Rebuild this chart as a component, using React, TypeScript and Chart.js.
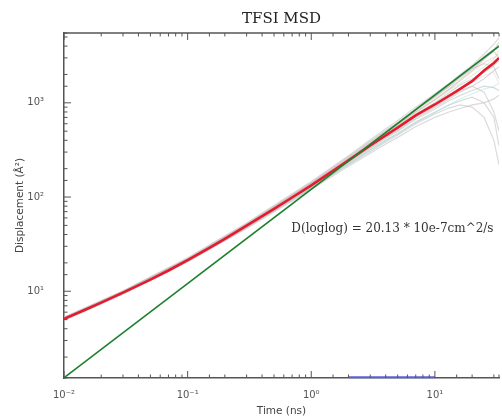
import React, { useEffect, useRef } from 'react';
import { Chart, registerables } from 'chart.js';

Chart.register(...registerables);

// Time points (ns) for the mean MSD
const TIME = [0.01, 0.015, 0.02, 0.03, 0.05, 0.07, 0.1, 0.15, 0.2, 0.3, 0.5, 0.7, 1, 1.5, 2, 3, 5, 7, 10, 15, 20, 25, 30, 33];
// Mean MSD (red)
const MEAN_MSD = [5.1, 6.41, 7.57, 9.66, 13.3, 16.6, 21.4, 28.8, 36.0, 49.6, 75.0, 98.9, 133, 190, 245, 352, 545, 735, 960, 1330, 1700, 2200, 2650, 2990];

// Time points (ns) for the individual ion MSDs
const ION_TIME = [0.01, 0.03, 0.1, 0.3, 1, 2, 3, 4, 5, 7, 10, 13, 16, 20, 25, 30, 33];
const ION_1 = [5.3, 10.1, 22.6, 53, 146, 275, 405, 530, 650, 900, 1250, 1600, 2000, 2500, 3300, 4200, 4900];
const ION_2 = [5.25, 10.0, 22.3, 52, 143, 268, 392, 510, 620, 860, 1180, 1550, 1900, 2400, 3100, 3700, 4100];
const ION_3 = [5.2, 9.9, 22.0, 51, 140, 258, 375, 480, 590, 810, 1100, 1380, 1700, 2150, 2700, 3000, 3300];
const ION_4 = [5.15, 9.75, 21.6, 50.2, 136, 250, 360, 470, 560, 760, 1000, 1280, 1550, 1800, 2100, 2500, 2800];
const ION_5 = [5.05, 9.6, 21.2, 49, 130, 236, 335, 430, 510, 690, 900, 1100, 1300, 1500, 1800, 2200, 2400];
const ION_6 = [5.0, 9.5, 20.9, 48, 126, 226, 318, 400, 475, 630, 800, 950, 1100, 1250, 1400, 1500, 1600];
const ION_7 = [4.95, 9.4, 20.7, 47.3, 123, 220, 305, 385, 455, 600, 760, 880, 950, 900, 700, 400, 220];
const ION_8 = [4.9, 9.3, 20.4, 46.5, 120, 212, 292, 365, 430, 560, 700, 800, 870, 950, 1000, 1100, 1200];
const ION_9 = [5.1, 9.7, 21.5, 50, 135, 248, 360, 465, 570, 790, 1060, 1350, 1600, 1950, 2400, 2900, 3600];
const ION_10 = [5.1, 9.65, 21.3, 49.4, 132, 240, 345, 445, 535, 720, 950, 1150, 1350, 1500, 1300, 800, 500];
const ION_11 = [5.2, 9.85, 21.8, 50.8, 138, 255, 372, 485, 600, 840, 1150, 1500, 1900, 2300, 2600, 2400, 1800];
const ION_12 = [5.0, 9.55, 21.1, 48.6, 128, 232, 330, 420, 500, 670, 860, 1050, 1200, 1350, 1500, 1450, 1350];
const ION_13 = [5.15, 9.8, 21.7, 50.5, 137, 252, 368, 480, 585, 800, 1080, 1400, 1750, 2200, 2900, 3600, 4400];
const ION_14 = [5.05, 9.6, 21.3, 49.2, 131, 238, 340, 440, 525, 710, 920, 1150, 1400, 1650, 1950, 2100, 1600];
const ION_15 = [5.2, 9.9, 21.9, 51.2, 141, 262, 385, 500, 610, 850, 1160, 1480, 1850, 2300, 2950, 3500, 3000];
const ION_16 = [4.95, 9.45, 20.8, 47.7, 125, 224, 315, 400, 470, 620, 790, 950, 1050, 1150, 1000, 700, 350];

const ION_SERIES = [ION_1, ION_2, ION_3, ION_4, ION_5, ION_6, ION_7, ION_8, ION_9, ION_10, ION_11, ION_12, ION_13, ION_14, ION_15, ION_16];
const ION_COLORS = [
  'rgba(190,190,190,0.55)', 'rgba(190,190,190,0.55)', 'rgba(255,160,170,0.35)', 'rgba(190,190,190,0.55)',
  'rgba(190,190,190,0.55)', 'rgba(150,220,220,0.4)', 'rgba(190,190,190,0.55)', 'rgba(190,190,190,0.55)',
  'rgba(170,225,170,0.4)', 'rgba(190,190,190,0.55)', 'rgba(190,190,190,0.55)', 'rgba(190,190,190,0.55)',
  'rgba(190,190,190,0.55)', 'rgba(255,190,200,0.4)', 'rgba(190,190,190,0.55)', 'rgba(190,190,190,0.55)',
];

// Log-log fit (green): MSD = 6 D t
const FIT_T = [0.01, 33];
const FIT_MSD = [1.2078, 3986];
// Fit range marker (blue)
const RANGE_T = [2, 10];
const RANGE_Y = [1.22, 1.22];

const X_MAJOR = [0.01, 0.1, 1, 10];
const X_LABELS = ['10⁻²', '10⁻¹', '10⁰', '10¹'];
const Y_MAJOR = [10, 100, 1000];
const Y_LABELS = ['10¹', '10²', '10³'];

const X_MIN = 0.01;
const X_MAX = 33;
const Y_MIN = 1.2;
const Y_MAX = 5510;

const ANNOT_TEXT = 'D(loglog) = 20.13 * 10e-7cm^2/s';
const ANNOT_T = 0.69;
const ANNOT_Y = 43;

const AXIS_COLOR = '#555';

function isMajor(list: number[], v: number) {
  return list.some((m) => Math.abs(m - v) / m < 1e-6);
}

const frameAndTicks = {
  id: 'frameAndTicks',
  afterDraw(chart: any) {
    const { ctx, chartArea } = chart;
    const xs = chart.scales.x;
    const ys = chart.scales.y;
    ctx.save();
    ctx.strokeStyle = AXIS_COLOR;
    ctx.lineWidth = 1.5;
    ctx.beginPath();
    ctx.moveTo(chartArea.left, chartArea.top);
    ctx.lineTo(chartArea.right, chartArea.top);
    ctx.stroke();
    ctx.lineWidth = 1;
    xs.ticks.forEach((t: any) => {
      const px = xs.getPixelForValue(t.value);
      if (px < chartArea.left - 0.5 || px > chartArea.right + 0.5) return;
      const len = isMajor(X_MAJOR, t.value) ? 7 : 3.5;
      ctx.beginPath();
      ctx.moveTo(px, chartArea.bottom);
      ctx.lineTo(px, chartArea.bottom - len);
      ctx.moveTo(px, chartArea.top);
      ctx.lineTo(px, chartArea.top + len);
      ctx.stroke();
    });
    ys.ticks.forEach((t: any) => {
      const py = ys.getPixelForValue(t.value);
      if (py < chartArea.top - 0.5 || py > chartArea.bottom + 0.5) return;
      const len = isMajor(Y_MAJOR, t.value) ? 7 : 3.5;
      ctx.beginPath();
      ctx.moveTo(chartArea.left, py);
      ctx.lineTo(chartArea.left + len, py);
      ctx.stroke();
    });
    ctx.fillStyle = '#333';
    ctx.font = '12px "DejaVu Serif"';
    ctx.textBaseline = 'alphabetic';
    ctx.textAlign = 'left';
    ctx.fillText(ANNOT_TEXT, xs.getPixelForValue(ANNOT_T), ys.getPixelForValue(ANNOT_Y));
    ctx.restore();
  },
};

export default function App() {
  const ref = useRef<HTMLCanvasElement | null>(null);

  useEffect(() => {
    if (!ref.current) return;
    const ionSets = ION_SERIES.map((s, i) => ({
      data: ION_TIME.map((t, j) => ({ x: t, y: s[j] })),
      borderColor: ION_COLORS[i],
      borderWidth: 1.2,
      pointRadius: 0,
      tension: 0,
      order: 10,
    }));
    const chart = new Chart(ref.current, {
      type: 'line',
      data: {
        datasets: [
          {
            data: TIME.map((t, j) => ({ x: t, y: MEAN_MSD[j] })),
            borderColor: 'rgb(228,28,48)',
            borderWidth: 2.6,
            pointRadius: 0,
            order: 1,
          },
          {
            data: FIT_T.map((t, j) => ({ x: t, y: FIT_MSD[j] })),
            borderColor: 'rgb(30,128,45)',
            borderWidth: 1.6,
            pointRadius: 0,
            order: 0,
          },
          {
            data: RANGE_T.map((t, j) => ({ x: t, y: RANGE_Y[j] })),
            borderColor: 'rgb(95,95,220)',
            borderWidth: 2,
            pointRadius: 0,
            order: 0,
            clip: false as any,
          },
          ...ionSets,
        ],
      },
      options: {
        responsive: false,
        animation: false,
        layout: { padding: { left: 0, right: 0, top: 0, bottom: 0 } },
        plugins: {
          legend: { display: false },
          tooltip: { enabled: false },
          title: {
            display: true,
            text: 'TFSI MSD',
            fullSize: false,
            color: '#222',
            font: { family: '"DejaVu Serif"', size: 15, weight: 'normal' },
            padding: { top: 10, bottom: 5 },
          },
        },
        scales: {
          x: {
            type: 'logarithmic',
            min: X_MIN,
            max: X_MAX,
            grid: { display: false },
            border: { display: true, color: AXIS_COLOR, width: 1.5 },
            afterFit: (s: any) => { s.height = 41; },
            ticks: {
              autoSkip: false,
              maxRotation: 0,
              padding: 3,
              color: '#555',
              font: { family: '"DejaVu Sans"', size: 10 },
              callback: (v: any) => {
                const i = X_MAJOR.findIndex((m) => Math.abs(m - v) / m < 1e-6);
                return i >= 0 ? X_LABELS[i] : '';
              },
            },
            title: {
              display: true,
              text: 'Time (ns)',
              color: '#444',
              font: { family: '"DejaVu Sans"', size: 10.5 },
              padding: { top: 0, bottom: 1 },
            },
          },
          y: {
            type: 'logarithmic',
            min: Y_MIN,
            max: Y_MAX,
            grid: { display: false },
            border: { display: true, color: AXIS_COLOR, width: 1.5 },
            afterFit: (s: any) => { s.width = 64; },
            ticks: {
              autoSkip: false,
              padding: 12,
              color: '#555',
              font: { family: '"DejaVu Sans"', size: 10 },
              callback: (v: any) => {
                const i = Y_MAJOR.findIndex((m) => Math.abs(m - v) / m < 1e-6);
                return i >= 0 ? Y_LABELS[i] : '';
              },
            },
            title: {
              display: true,
              text: 'Displacement (Å²)',
              color: '#444',
              font: { family: '"DejaVu Sans"', size: 10.5 },
              padding: { top: 14, bottom: 0 },
            },
          },
        },
      },
      plugins: [frameAndTicks],
    });
    return () => chart.destroy();
  }, []);

  return (
    <div style={{ position: 'absolute', left: 0, top: 0, width: 502, height: 419, background: '#fff' }}>
      <canvas ref={ref} width={502} height={419} style={{ display: 'block' }} />
    </div>
  );
}
